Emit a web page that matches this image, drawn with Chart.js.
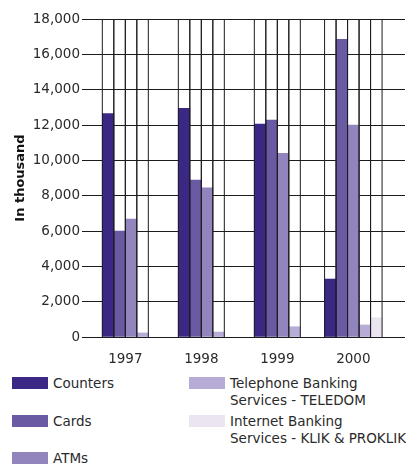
<!DOCTYPE html>
<html>
<head>
<meta charset="utf-8">
<script src="https://cdn.jsdelivr.net/npm/chart.js@4/dist/chart.umd.min.js"></script>
<style>
  html, body { margin: 0; padding: 0; background: #fff; }
  #wrap { position: relative; width: 406px; height: 464px; overflow: hidden; }
  #chart { position: absolute; left: 0; top: 0; }
  #legend {
    position: absolute; left: 12px; top: 375px;
    display: grid;
    grid-template-columns: 177px 200px;
    grid-template-rows: repeat(3, 37.5px);
    grid-auto-flow: column;
    font-family: "DejaVu Sans", sans-serif; font-size: 13.5px; line-height: 17px; color: #2a2a2a;
    white-space: nowrap;
  }
  .item { display: flex; align-items: flex-start; }
  .sw { width: 36px; height: 12px; margin-top: 2px; margin-right: 5px; flex: none; }
</style>
</head>
<body>
<div id="wrap">
  <canvas id="chart" width="406" height="367"></canvas>
  <div id="legend"></div>
</div>
<script>
// Years on the horizontal axis
const years = ['1997', '1998', '1999', '2000'];

// Transactions per channel, in thousand (null = channel not yet offered)
const counters  = [12650, 12950, 12050, 3280];
const cards     = [6000, 8880, 12280, 16850];
const atms      = [6680, 8450, 10400, 12000];
const teledom   = [230, 280, 580, 680];
const klik      = [null, null, null, 1090];

const seriesNames = [
  'Counters',
  'Cards',
  'ATMs',
  ['Telephone Banking', 'Services - TELEDOM'],
  ['Internet Banking', 'Services - KLIK & PROKLIK']
];
const seriesColors = ['#3b2884', '#6a59a3', '#9284bd', '#b6acd5', '#ebe5f2'];

// Y axis tick range
const yMin = 0, yMax = 18000, yStep = 2000;

const ruleColor = '#1c1c1c';
const tickFont = { family: '"DejaVu Sans", sans-serif', size: 13.5 };

// Vertical rules along both edges of every drawn bar, full plot height
const barRules = {
  id: 'barRules',
  afterDatasetsDraw(chart) {
    const { ctx, chartArea } = chart;
    ctx.save();
    ctx.strokeStyle = ruleColor;
    ctx.lineWidth = 1;
    chart.data.datasets.forEach((ds, di) => {
      const meta = chart.getDatasetMeta(di);
      meta.data.forEach((bar, i) => {
        if (ds.data[i] === null || ds.data[i] === undefined) return;
        const half = bar.width / 2;
        [bar.x - half, bar.x + half].forEach(x => {
          ctx.beginPath();
          ctx.moveTo(x, chartArea.top);
          ctx.lineTo(x, chartArea.bottom);
          ctx.stroke();
        });
      });
    });
    ctx.restore();
  }
};

const seriesValues = [counters, cards, atms, teledom, klik];

const chart = new Chart(document.getElementById('chart'), {
  type: 'bar',
  data: {
    labels: years,
    datasets: seriesValues.map((v, i) => ({
      label: Array.isArray(seriesNames[i]) ? seriesNames[i].join(' ') : seriesNames[i],
      data: v,
      backgroundColor: seriesColors[i],
      borderWidth: 0,
      skipNull: true,
      barThickness: 11.5
    }))
  },
  options: {
    responsive: false,
    animation: false,
    layout: { padding: { top: 19, right: 1, left: 0, bottom: 0 } },
    plugins: { legend: { display: false }, tooltip: { enabled: false } },
    scales: {
      x: {
        type: 'linear',
        offset: false,
        min: 1996.43,
        max: 2000.68,
        grid: { display: false },
        border: { display: false },
        afterBuildTicks: s => { s.ticks = years.map(y => ({ value: +y })); },
        afterFit: s => { s.height = 30; },
        ticks: {
          callback: v => String(v),
          font: tickFont,
          color: '#2a2a2a',
          padding: 6,
          maxRotation: 0,
          autoSkip: false
        }
      },
      y: {
        min: yMin,
        max: yMax,
        afterFit: s => { s.width = 82; },
        grid: { color: ruleColor, drawTicks: false },
        border: { display: false },
        ticks: {
          stepSize: yStep,
          font: tickFont,
          color: '#2a2a2a',
          padding: 2,
          callback: v => v.toLocaleString('en-US')
        },
        title: {
          display: true,
          text: 'In thousand',
          font: { family: '"DejaVu Sans", sans-serif', size: 13, weight: 'bold' },
          color: '#111',
          padding: { top: 13, bottom: 0 }
        }
      }
    }
  },
  plugins: [barRules]
});

// Legend built from the chart's datasets
const legendBox = document.getElementById('legend');
chart.data.datasets.forEach((ds, i) => {
  const item = document.createElement('div');
  item.className = 'item';
  const sw = document.createElement('span');
  sw.className = 'sw';
  sw.style.background = ds.backgroundColor;
  const txt = document.createElement('span');
  const name = seriesNames[i];
  (Array.isArray(name) ? name : [name]).forEach((line, k) => {
    if (k) txt.appendChild(document.createElement('br'));
    txt.appendChild(document.createTextNode(line));
  });
  item.appendChild(sw);
  item.appendChild(txt);
  legendBox.appendChild(item);
});
</script>
</body>
</html>
